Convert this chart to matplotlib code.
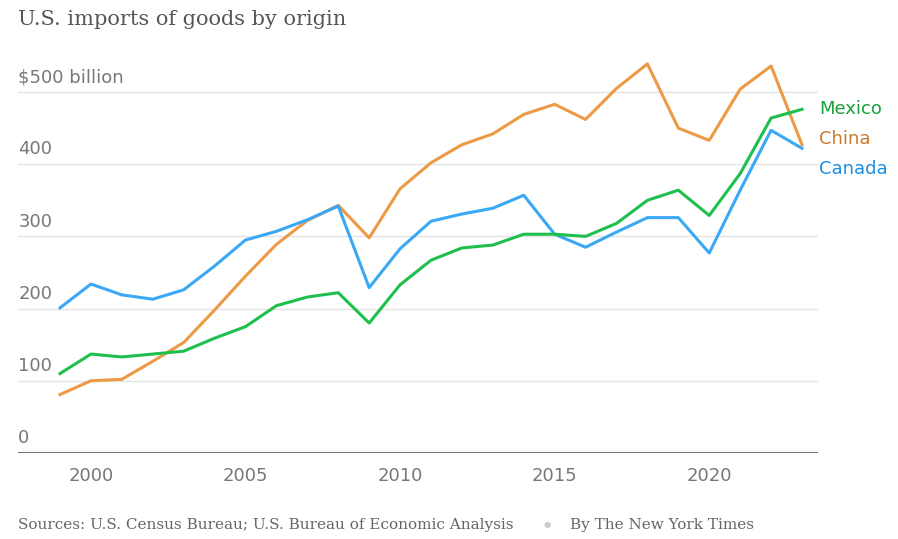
import matplotlib.pyplot as plt

years = list(range(1999, 2024))
china = [81, 100, 102, 127, 153, 198, 245, 289, 322, 343, 298, 366, 402, 427, 442, 469,
         483, 462, 505, 539, 450, 433, 504, 536, 427]
canada = [201, 234, 219, 213, 226, 259, 295, 307, 323, 342, 229, 283, 321, 331, 339, 357,
          303, 285, 306, 326, 326, 277, 364, 447, 422]
mexico = [110, 137, 133, 137, 141, 159, 175, 204, 216, 222, 180, 233, 267, 284, 288, 303,
          303, 300, 318, 350, 364, 329, 387, 464, 476]
yticks = [0, 100, 200, 300, 400, 500]
ytick_labels = ["0", "100", "200", "300", "400", "$500 billion"]
xticks = [2000, 2005, 2010, 2015, 2020]

fig = plt.figure(figsize=(8.98, 5.39), dpi=100)
ax = fig.add_axes([0.02, 0.1596, 0.891, 0.738])

ax.plot(years, china, color="#ec9a45", lw=2.2)
ax.plot(years, canada, color="#3aa8f5", lw=2.2)
ax.plot(years, mexico, color="#1fbf4d", lw=2.2)

ax.set_xlim(1997.64, 2023.52)
ax.set_ylim(0, 551)
for v in yticks[1:]:
    ax.axhline(v, color="#e4e4e4", lw=1, zorder=0)
ax.axhline(0, color="#555555", lw=1.2)
for v, lab in zip(yticks, ytick_labels):
    ax.text(1997.65, v + 8, lab, fontsize=13, color="#777777", va="bottom", ha="left")

ax.set_xticks(xticks)
ax.tick_params(axis="x", length=0, labelsize=13, labelcolor="#777777", pad=10)
ax.set_yticks([])
for s in ax.spines.values():
    s.set_visible(False)

ax.text(2023.55, 477, "Mexico", color="#18a13e", fontsize=13, va="center", clip_on=False)
ax.text(2023.55, 435, "China", color="#c97b2b", fontsize=13, va="center", clip_on=False)
ax.text(2023.55, 394, "Canada", color="#1e8fe0", fontsize=13, va="center", clip_on=False)

fig.text(0.02, 0.963, "U.S. imports of goods by origin", fontsize=15, color="#555555",
         family="DejaVu Serif", va="center")
fig.text(0.02, 0.026, "Sources: U.S. Census Bureau; U.S. Bureau of Economic Analysis",
         fontsize=11, color="#666666", family="DejaVu Serif", va="center")
fig.text(0.605, 0.026, "\u25cf", fontsize=6, color="#cccccc", va="center")
fig.text(0.635, 0.026, "By The New York Times", fontsize=11, color="#666666",
         family="DejaVu Serif", va="center")

fig.savefig("out.png", dpi=100)
